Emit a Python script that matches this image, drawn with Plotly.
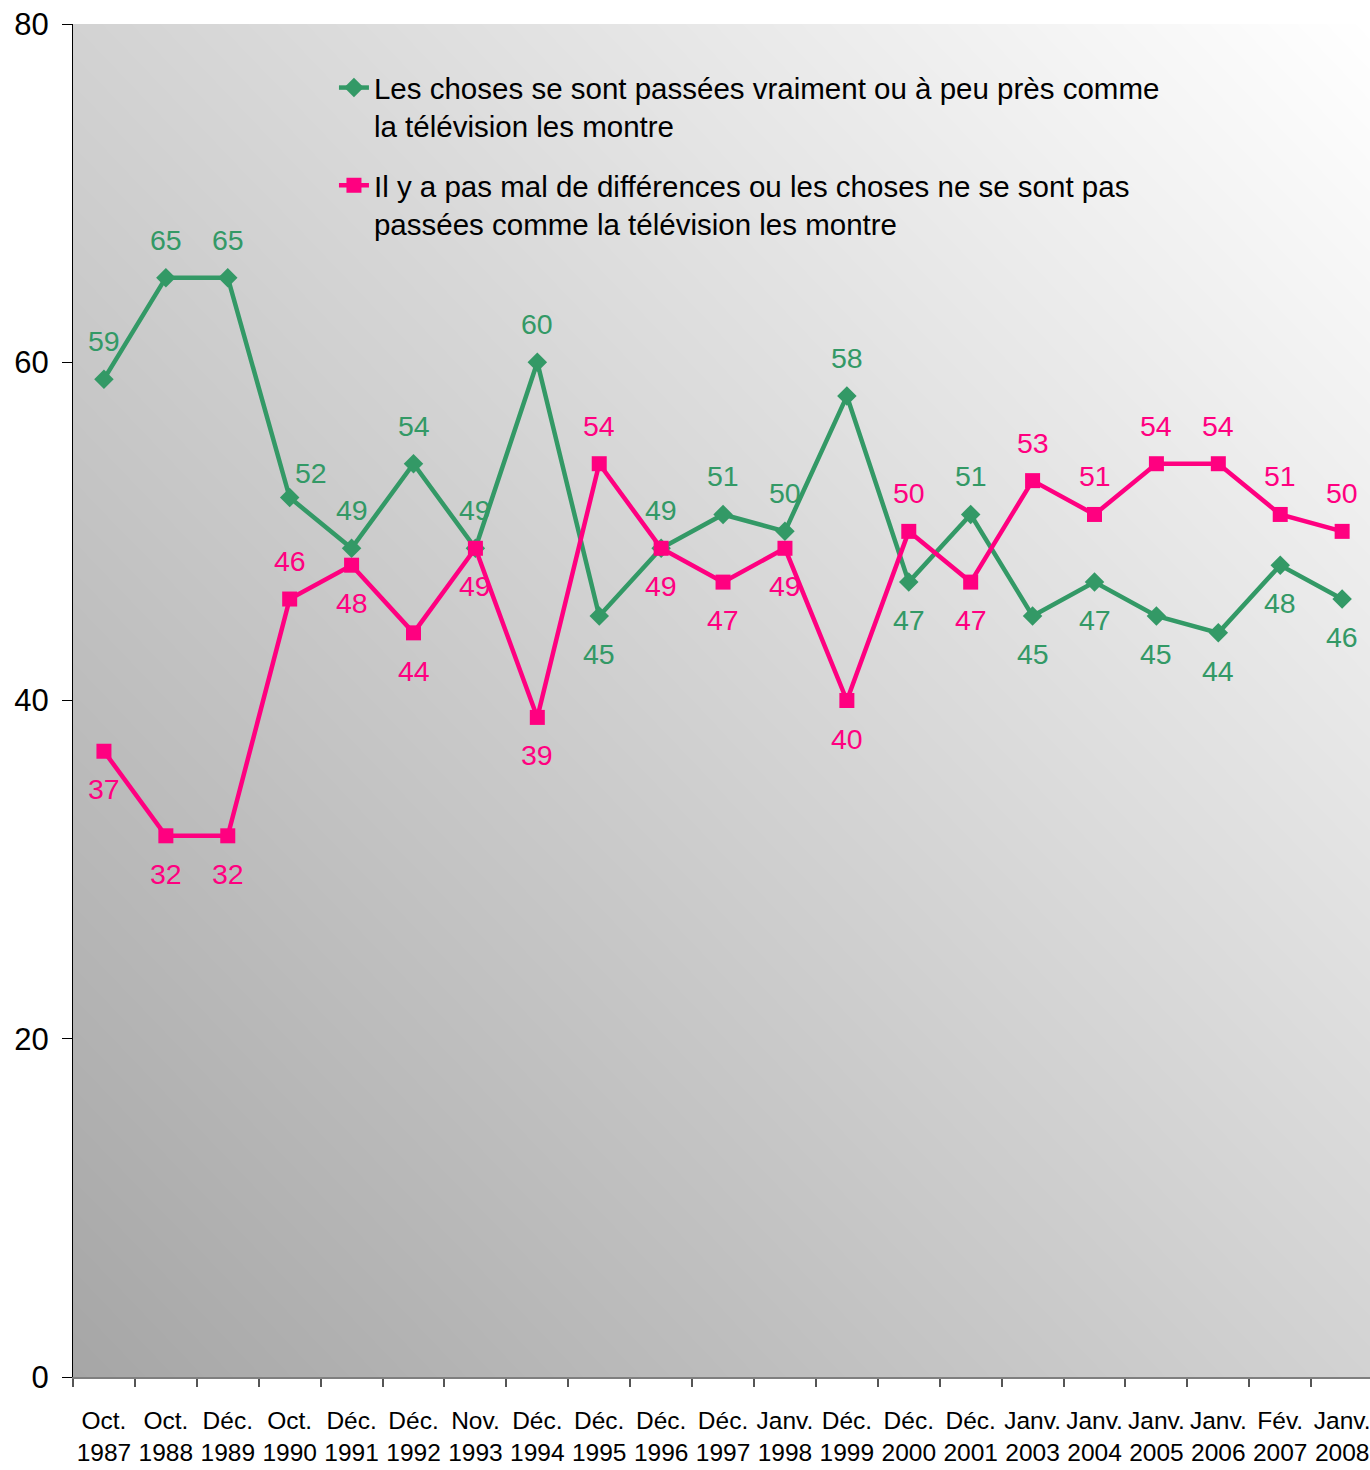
import plotly.graph_objects as go
import numpy as np

months = ["Oct.", "Oct.", "Déc.", "Oct.", "Déc.", "Déc.", "Nov.", "Déc.", "Déc.", "Déc.",
          "Déc.", "Janv.", "Déc.", "Déc.", "Déc.", "Janv.", "Janv.", "Janv.", "Janv.", "Fév.", "Janv."]
years = ["1987", "1988", "1989", "1990", "1991", "1992", "1993", "1994", "1995", "1996",
         "1997", "1998", "1999", "2000", "2001", "2003", "2004", "2005", "2006", "2007", "2008"]
tick_labels = [f"{m}<br>{y}" for m, y in zip(months, years)]

green_name = "Les choses se sont passées vraiment ou à peu près comme<br>la télévision les montre"
pink_name = "Il y a pas mal de différences ou les choses ne se sont pas<br>passées comme la télévision les montre"

green = [59, 65, 65, 52, 49, 54, 49, 60, 45, 49, 51, 50, 58, 47, 51, 45, 47, 45, 44, 48, 46]
pink = [37, 32, 32, 46, 48, 44, 49, 39, 54, 49, 47, 49, 40, 50, 47, 53, 51, 54, 54, 51, 50]

# label placement: 'a' above, 'b' below, 'r' right
green_pos = ["a", "a", "a", "r", "a", "a", "a", "a", "b", "a", "a", "a", "a", "b", "a", "b", "b", "b", "b", "b", "b"]
pink_pos = ["b", "b", "b", "a", "b", "b", "b", "b", "a", "b", "b", "b", "b", "a", "b", "a", "a", "a", "a", "a", "a"]

GREEN = "#339966"
PINK = "#FF0080"
FONT = "Liberation Sans, Arial, sans-serif"

x = list(range(len(years)))
XMIN, XMAX = -0.5, 20.45

fig = go.Figure()

# gradient background via heatmap
n = 60
gx = np.linspace(XMIN, XMAX, n)
gy = np.linspace(0, 80, n)
u = (gx - XMIN) / (XMAX - XMIN)
v = gy / 80
Z = (u[None, :] + v[:, None]) / 2
fig.add_trace(go.Heatmap(x=gx, y=gy, z=Z, zmin=0, zmax=1, zsmooth="best",
                         colorscale=[[0, "#a6a6a6"], [1, "#ffffff"]],
                         showscale=False, hoverinfo="skip", showlegend=False))

fig.add_trace(go.Scatter(x=x, y=green, mode="lines+markers", name=green_name,
                         legendgroup="g",
                         line=dict(color=GREEN, width=4.5),
                         marker=dict(symbol="diamond", size=15, color=GREEN)))
fig.add_trace(go.Scatter(x=x, y=pink, mode="lines+markers", name=pink_name,
                         legendgroup="p",
                         line=dict(color=PINK, width=4.5),
                         marker=dict(symbol="square", size=15, color=PINK)))

def add_labels(vals, pos, color):
    for i, (val, p) in enumerate(zip(vals, pos)):
        if p == "a":
            xs, ys = 0, 38
        elif p == "b":
            xs, ys = 0, -38
        else:
            xs, ys = 21, 25
        fig.add_annotation(x=x[i], y=val, text=str(val), showarrow=False,
                           xshift=xs, yshift=ys, xanchor="center", yanchor="middle",
                           font=dict(family=FONT, size=28.5, color=color))

add_labels(green, green_pos, GREEN)
add_labels(pink, pink_pos, PINK)

fig.update_layout(
    width=1370, height=1470,
    margin=dict(l=73, r=0, t=24, b=93, autoexpand=False),
    paper_bgcolor="white", plot_bgcolor="white",
    font=dict(family=FONT, color="black"),
    legend=dict(x=0.2012, y=0.972, xanchor="left", yanchor="top",
                bgcolor="rgba(0,0,0,0)", borderwidth=0,
                font=dict(family=FONT, size=29.5, color="black"),
                valign="top", tracegroupgap=18, traceorder="grouped"),
    showlegend=True,
)

fig.update_xaxes(range=[XMIN, XMAX], tickmode="array", tickvals=x, ticktext=tick_labels,
                 ticks="outside", ticklen=21, tickcolor="rgba(0,0,0,0)",
                 ticklabeloverflow="allow", automargin=False,
                 tickfont=dict(family=FONT, size=24.5, color="black"),
                 showgrid=False, zeroline=False, showline=True, linecolor="#7f7f7f", linewidth=2,
                 minor=dict(tickmode="array", tickvals=[i - 0.5 for i in range(len(years) + 1)],
                            ticks="outside", ticklen=8, tickcolor="#555555", tickwidth=1.5,
                            showgrid=False))
fig.update_yaxes(range=[0, 80], tickmode="array", tickvals=[0, 20, 40, 60, 80],
                 ticks="outside", ticklen=10, tickcolor="black", tickwidth=1,
                 ticklabelstandoff=7, ticklabeloverflow="allow", automargin=False,
                 tickfont=dict(family=FONT, size=31, color="black"),
                 showgrid=False, zeroline=False, showline=True, linecolor="black", linewidth=1)

fig.write_html("out.html", config={"displayModeBar": False},
               post_script="document.body.style.margin='0';document.body.style.overflow='hidden';")
